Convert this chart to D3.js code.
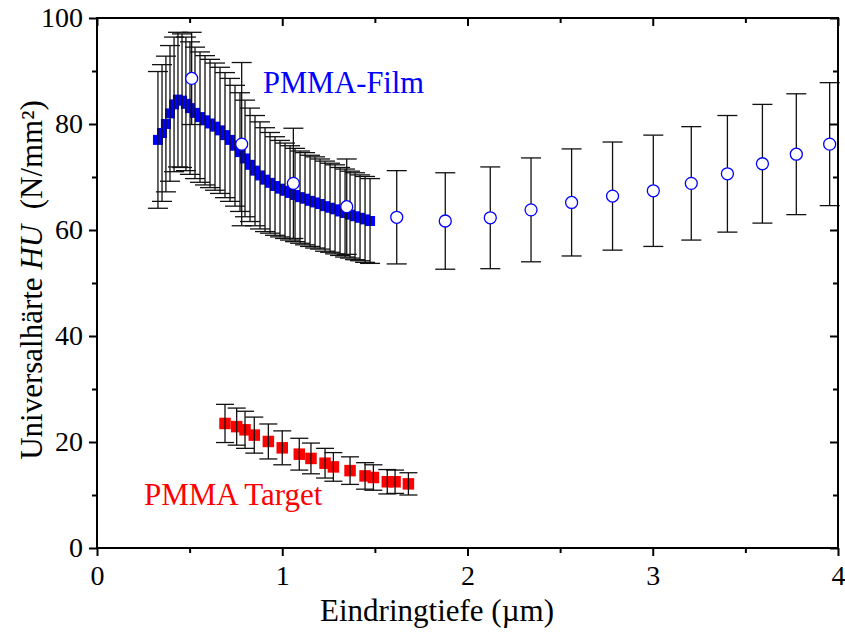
<!DOCTYPE html>
<html>
<head>
<meta charset="utf-8">
<script src="https://cdn.jsdelivr.net/npm/d3@7"></script>
<style>
  html, body { margin: 0; padding: 0; background: #fff; }
  svg { display: block; font-family: "Liberation Serif", "Times New Roman", serif; }
</style>
</head>
<body>
<svg id="chart" width="845" height="634"></svg>
<script>
// PMMA film, fine-step measurement (filled squares)
const filmX = [0.329, 0.351, 0.372, 0.394, 0.416, 0.437, 0.459, 0.480, 0.502, 0.529,
               0.556, 0.583, 0.610, 0.637, 0.664, 0.691, 0.718, 0.745, 0.772, 0.799,
               0.826, 0.853, 0.880, 0.907, 0.934, 0.961, 0.988, 1.015, 1.042, 1.069,
               1.096, 1.123, 1.150, 1.177, 1.204, 1.231, 1.258, 1.285, 1.312, 1.339,
               1.366, 1.393, 1.420, 1.447, 1.474];
const filmHU = [77.0, 78.3, 80.0, 82.0, 83.7, 84.6, 84.4, 83.8, 83.0, 82.1,
                81.3, 80.7, 80.1, 79.5, 78.8, 77.9, 77.0, 75.9, 74.7, 73.5,
                72.3, 71.2, 70.3, 69.5, 68.9, 68.3, 67.8, 67.4, 67.0, 66.6,
                66.2, 65.9, 65.5, 65.2, 64.9, 64.5, 64.2, 63.9, 63.5, 63.2,
                62.9, 62.6, 62.3, 62.0, 61.7];
const filmErr = [12.9, 12.9, 12.8, 12.8, 12.7, 12.7, 12.6, 12.6, 12.5, 12.4,
                 12.3, 12.2, 12.1, 12.0, 11.9, 11.8, 11.6, 11.4, 11.2, 11.0,
                 10.7, 10.4, 10.1, 9.8, 9.5, 9.3, 9.1, 9.0, 8.9, 8.8,
                 8.7, 8.7, 8.6, 8.6, 8.5, 8.5, 8.4, 8.4, 8.3, 8.3,
                 8.2, 8.2, 8.1, 8.1, 8.0];

// PMMA film, coarse-step measurement (open circles)
const filmCoarseX = [0.511, 0.781, 1.060, 1.348, 1.618, 1.880, 2.123, 2.343, 2.562, 2.783,
                     3.003, 3.208, 3.403, 3.592, 3.775, 3.955];
const filmCoarseHU = [88.6, 76.2, 68.8, 64.4, 62.4, 61.7, 62.3, 63.8, 65.2, 66.4,
                      67.4, 68.8, 70.6, 72.5, 74.3, 76.2];
const filmCoarseErr = [8.7, 15.4, 10.4, 9.0, 8.8, 9.1, 9.6, 9.8, 10.1, 10.2,
                       10.5, 10.7, 11.0, 11.2, 11.4, 11.6];

// PMMA target (filled squares)
const targetX = [0.691, 0.754, 0.799, 0.849, 0.925, 1.000, 1.092, 1.155, 1.231, 1.276,
                 1.366, 1.447, 1.492, 1.567, 1.609, 1.681];
const targetHU = [23.5, 22.9, 22.3, 21.3, 20.1, 18.9, 17.7, 16.9, 16.0, 15.3,
                  14.6, 13.6, 13.3, 12.5, 12.5, 12.1];
const targetErr = [3.6, 3.5, 3.5, 3.4, 3.3, 3.2, 3.0, 2.9, 2.8, 2.7,
                   2.6, 2.5, 2.4, 2.3, 2.2, 2.1];

const xTicks = [0, 1, 2, 3, 4];
const yTicks = [0, 20, 40, 60, 80, 100];

const svg = d3.select("#chart");
const W = 845, H = 634;
const margin = { left: 97, top: 18, right: 7, bottom: 86 };
const x = d3.scaleLinear().domain([0, 4]).range([margin.left, W - margin.right]);
const y = d3.scaleLinear().domain([0, 100]).range([H - margin.bottom, margin.top]);

const zip = (xs, ys, es) => xs.map((v, i) => ({ x: v, y: ys[i], e: es[i] }));
const film = zip(filmX, filmHU, filmErr);
const coarse = zip(filmCoarseX, filmCoarseHU, filmCoarseErr);
const target = zip(targetX, targetHU, targetErr);

const plot = svg.append("g");

function errorBars(data, cap) {
  const g = plot.append("g").attr("stroke", "#111").attr("stroke-width", 1.3).attr("fill", "none");
  data.forEach(d => {
    const xp = x(d.x), y1 = y(d.y + d.e), y0 = y(d.y - d.e);
    g.append("line").attr("x1", xp).attr("x2", xp).attr("y1", y1).attr("y2", y0);
    g.append("line").attr("x1", xp - cap).attr("x2", xp + cap).attr("y1", y1).attr("y2", y1);
    g.append("line").attr("x1", xp - cap).attr("x2", xp + cap).attr("y1", y0).attr("y2", y0);
  });
}

function squares(data, size, color) {
  plot.append("g").selectAll("rect").data(data).join("rect")
    .attr("x", d => x(d.x) - size / 2)
    .attr("y", d => y(d.y) - size / 2)
    .attr("width", size).attr("height", size)
    .attr("fill", color);
}

// film squares, then their error bars on top
squares(film, 10, "#0000ff");
errorBars(film, 10);

// target squares and error bars
squares(target, 11.5, "#ff0000");
errorBars(target, 9);

// coarse film series: bars then open circles
errorBars(coarse, 10);
plot.append("g").selectAll("circle").data(coarse).join("circle")
  .attr("cx", d => x(d.x)).attr("cy", d => y(d.y)).attr("r", 6)
  .attr("fill", "#fff").attr("stroke", "#0000ff").attr("stroke-width", 1.3);

// axes
const tickFont = "28px";
const xAxisB = d3.axisBottom(x).tickValues(xTicks).tickFormat(d3.format("d")).tickSize(8).tickPadding(9);
const xMinorB = d3.axisBottom(x).tickValues(d3.range(0.5, 4, 1)).tickFormat("").tickSize(5);
const yAxisL = d3.axisLeft(y).tickValues(yTicks).tickFormat(d3.format("d")).tickSize(8).tickPadding(6);
const yMinorL = d3.axisLeft(y).tickValues(d3.range(10, 100, 20)).tickFormat("").tickSize(5);
const xAxisT = d3.axisBottom(x).tickValues(xTicks).tickFormat("").tickSize(8);
const xMinorT = d3.axisBottom(x).tickValues(d3.range(0.5, 4, 1)).tickFormat("").tickSize(5);
const yAxisR = d3.axisRight(y).tickValues(yTicks).tickFormat("").tickSize(-8);
const yMinorR = d3.axisRight(y).tickValues(d3.range(10, 100, 20)).tickFormat("").tickSize(-5);

function styleAxis(g) {
  g.select(".domain").remove();
  g.selectAll(".tick line").attr("stroke", "#000").attr("stroke-width", 2);
  g.selectAll(".tick text").attr("fill", "#000").style("font-size", tickFont)
    .style("font-family", "'Liberation Serif', 'Times New Roman', serif");
}

const bottomY = y(0), topY = y(100), leftX = x(0), rightX = x(4);
svg.append("g").attr("transform", `translate(0,${bottomY})`).call(xAxisB).call(styleAxis);
svg.append("g").attr("transform", `translate(0,${bottomY})`).call(xMinorB).call(styleAxis);
svg.append("g").attr("transform", `translate(${leftX},0)`).call(yAxisL).call(styleAxis);
svg.append("g").attr("transform", `translate(${leftX},0)`).call(yMinorL).call(styleAxis);
svg.append("g").attr("transform", `translate(0,${topY})`).call(xAxisT).call(styleAxis);
svg.append("g").attr("transform", `translate(0,${topY})`).call(xMinorT).call(styleAxis);
svg.append("g").attr("transform", `translate(${rightX},0)`).call(yAxisR).call(styleAxis);
svg.append("g").attr("transform", `translate(${rightX},0)`).call(yMinorR).call(styleAxis);

// frame
svg.append("rect")
  .attr("x", leftX).attr("y", topY)
  .attr("width", rightX - leftX).attr("height", bottomY - topY)
  .attr("fill", "none").attr("stroke", "#000").attr("stroke-width", 2);

// axis titles
svg.append("text")
  .attr("x", 437).attr("y", 621)
  .attr("text-anchor", "middle").style("font-size", "31px").attr("fill", "#000")
  .text("Eindringtiefe (µm)");

const yt = svg.append("text")
  .attr("transform", `translate(42,280) rotate(-90)`)
  .attr("text-anchor", "middle").style("font-size", "31px").attr("fill", "#000");
yt.append("tspan").text("Universalhärte ");
yt.append("tspan").style("font-style", "italic").text("HU");
yt.append("tspan").attr("xml:space", "preserve").text("  (N/mm²)");

// series labels
svg.append("text").attr("x", 263).attr("y", 93).attr("fill", "#0000ff")
  .style("font-size", "30.5px").text("PMMA-Film");
svg.append("text").attr("x", 144).attr("y", 505).attr("fill", "#ff0000")
  .style("font-size", "31px").text("PMMA Target");
</script>
</body>
</html>
